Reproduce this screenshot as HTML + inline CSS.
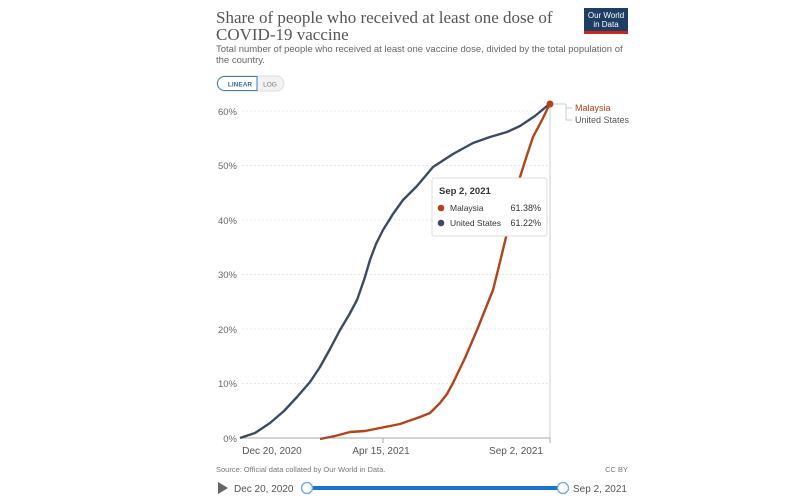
<!DOCTYPE html>
<html><head><style>
body{margin:0;background:#fff;width:800px;height:500px;overflow:hidden;font-family:"Liberation Sans",sans-serif;}
</style></head><body>
<svg width="800" height="500" xmlns="http://www.w3.org/2000/svg" style="position:absolute;left:0;top:0">
<text x="216" y="23" font-family="Liberation Serif" font-size="17" fill="#555">Share of people who received at least one dose of</text>
<text x="216" y="40" font-family="Liberation Serif" font-size="17" fill="#555">COVID-19 vaccine</text>
<text x="216" y="52" font-size="9.5" fill="#666">Total number of people who received at least one vaccine dose, divided by the total population of</text>
<text x="216" y="63" font-size="9.5" fill="#666">the country.</text>
<rect x="584" y="8" width="44" height="26" fill="#1d3d63"/>
<rect x="584" y="31" width="44" height="3" fill="#ce261e"/>
<text x="606" y="18" font-size="8" fill="#fff" text-anchor="middle">Our World</text>
<text x="606" y="27" font-size="8" fill="#fff" text-anchor="middle">in Data</text>
<rect x="217" y="76" width="67" height="15" rx="7.5" fill="#f2f2f2" stroke="#ddd"/>
<path d="M224.5 76.5 H257 V90.5 H224.5 A7 7 0 0 1 224.5 76.5Z" fill="#fff" stroke="#3b7fb3"/>
<text x="240" y="86.5" font-size="6.5" fill="#3b6e95" text-anchor="middle" font-weight="bold">LINEAR</text>
<text x="270" y="86.5" font-size="6.5" fill="#777" text-anchor="middle">LOG</text>
<g stroke="#ddd" stroke-dasharray="2,2" stroke-width="0.8">
<line x1="242" x2="550" y1="383.5" y2="383.5"/><line x1="242" x2="550" y1="329" y2="329"/>
<line x1="242" x2="550" y1="274.5" y2="274.5"/><line x1="242" x2="550" y1="220" y2="220"/>
<line x1="242" x2="550" y1="165.5" y2="165.5"/><line x1="242" x2="550" y1="111" y2="111"/>
</g>
<line x1="550" x2="550" y1="104" y2="438" stroke="#ccc"/>
<line x1="242" x2="550" y1="438" y2="438" stroke="#aaa"/>
<line x1="550" x2="550" y1="438" y2="443" stroke="#aaa"/>
<line x1="383" x2="383" y1="438" y2="443" stroke="#aaa"/>
<g font-size="9.5" fill="#666" text-anchor="end">
<text x="237" y="442">0%</text><text x="237" y="387">10%</text><text x="237" y="333">20%</text>
<text x="237" y="278">30%</text><text x="237" y="224">40%</text><text x="237" y="169">50%</text><text x="237" y="115">60%</text>
</g>
<g font-size="10" fill="#555" text-anchor="middle">
<text x="272" y="454">Dec 20, 2020</text><text x="381" y="454">Apr 15, 2021</text><text x="516" y="454">Sep 2, 2021</text>
</g>
<polyline fill="none" stroke="#3c4a64" stroke-width="2.4" stroke-linejoin="round" points="240,438 255,433 270,423 284,411 297,397 310,382 320,367 330,349 340,330 349,315 357,300 364,280 370,260 376,244 383,230 393,214 403,200 417,186 433,167 453,154 473,143 490,137 507,132 520,126 535,116 550,103.5"/>
<polyline fill="none" stroke="#b2431a" stroke-width="2.4" stroke-linejoin="round" points="320,439 335,436 350,432 365,431 380,428 400,424 420,417 430,413 440,403 447,394 453,383 465,358 477,330 485,310 493,290 500,262 507,233 513,205 520,177 527,155 533,137 542,120 550,103.5"/>
<circle cx="550" cy="104" r="3.5" fill="#b2431a"/>
<polyline points="554,104 566,104 566,120 572,120" fill="none" stroke="#bbb" stroke-width="0.8"/>
<line x1="566" x2="572" y1="108" y2="108" stroke="#bbb" stroke-width="0.8"/>
<text x="575" y="111" font-size="9" fill="#b2431a">Malaysia</text>
<text x="575" y="123" font-size="9" fill="#555">United States</text>
<rect x="432" y="178" width="115" height="58" fill="#fff" stroke="#ddd" rx="2"/>
<text x="439" y="194" font-size="9.5" font-weight="bold" fill="#333">Sep 2, 2021</text>
<circle cx="441" cy="208" r="3.3" fill="#b2431a"/>
<text x="450" y="211" font-size="8.5" fill="#333">Malaysia</text>
<text x="541" y="211" font-size="9" fill="#333" text-anchor="end">61.38%</text>
<circle cx="441" cy="223" r="3.3" fill="#3c4a64"/>
<text x="450" y="226" font-size="8.5" fill="#333">United States</text>
<text x="541" y="226" font-size="9" fill="#333" text-anchor="end">61.22%</text>
<text x="216" y="472" font-size="7.5" fill="#777">Source: Official data collated by Our World in Data.</text>
<text x="628" y="472" font-size="7.5" fill="#777" text-anchor="end">CC BY</text>
<polygon points="218,482 218,494 228,488" fill="#666"/>
<text x="234" y="492" font-size="10" fill="#555">Dec 20, 2020</text>
<line x1="307" x2="563" y1="488" y2="488" stroke="#1a73d0" stroke-width="4"/>
<circle cx="307" cy="488" r="5.5" fill="#fff" stroke="#7aa6cf" stroke-width="1.3"/>
<circle cx="563" cy="488" r="5.5" fill="#fff" stroke="#7aa6cf" stroke-width="1.3"/>
<text x="573" y="492" font-size="10" fill="#555">Sep 2, 2021</text>
</svg>
</body></html>
